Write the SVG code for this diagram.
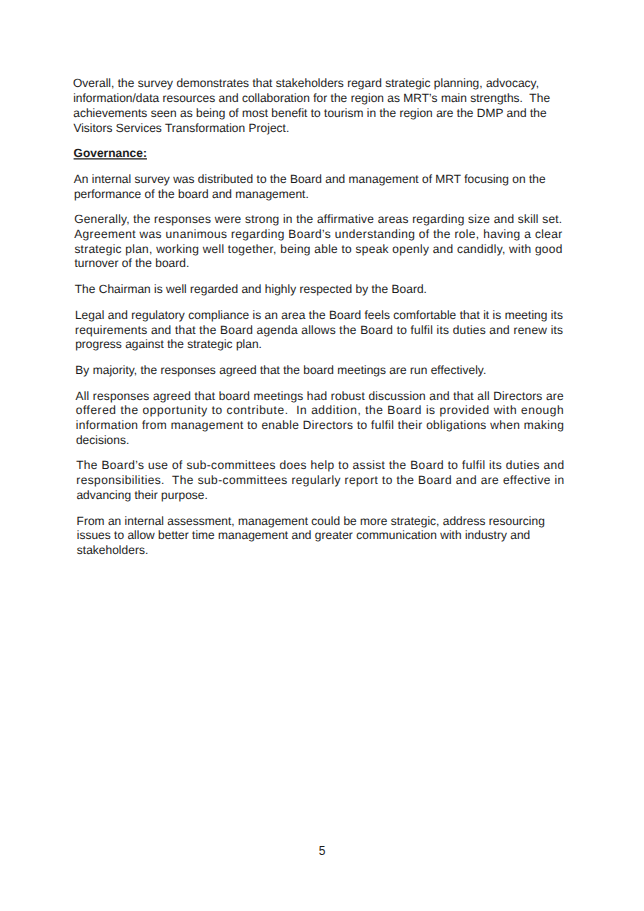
<svg xmlns="http://www.w3.org/2000/svg" width="644" height="911" viewBox="0 0 644 911">
<style>
text{font-family:"Liberation Sans",Arial,sans-serif;font-size:12px;fill:#1c1c1c;white-space:pre}
.h{font-weight:bold;text-decoration:underline}
</style>
<rect width="644" height="911" fill="#ffffff"/>
<g id="page" transform="translate(-0.697 0) skewX(0.47)">
<g id="p1">
<text x="73" y="87.5">Overall, the survey demonstrates that stakeholders regard strategic planning, advocacy,</text>
<text x="73" y="102.2">information/data resources and collaboration for the region as MRT’s main strengths.  The</text>
<text x="73" y="116.9">achievements seen as being of most benefit to tourism in the region are the DMP and the</text>
<text x="73" y="131.6">Visitors Services Transformation Project.</text>
</g>
<g id="heading">
<text class="h" x="73" y="157.3">Governance:</text>
</g>
<g id="p2">
<text x="73" y="183">An internal survey was distributed to the Board and management of MRT focusing on the</text>
<text x="73" y="197.7">performance of the board and management.</text>
</g>
<g id="p3">
<text x="73" y="223.4" textLength="488" lengthAdjust="spacing">Generally, the responses were strong in the affirmative areas regarding size and skill set.</text>
<text x="73" y="238.1" textLength="488" lengthAdjust="spacing">Agreement was unanimous regarding Board’s understanding of the role, having a clear</text>
<text x="73" y="252.8" textLength="488" lengthAdjust="spacing">strategic plan, working well together, being able to speak openly and candidly, with good</text>
<text x="73" y="267.5">turnover of the board.</text>
</g>
<g id="p4">
<text x="73" y="293.2">The Chairman is well regarded and highly respected by the Board.</text>
</g>
<g id="p5">
<text x="73" y="318.9" textLength="488" lengthAdjust="spacing">Legal and regulatory compliance is an area the Board feels comfortable that it is meeting its</text>
<text x="73" y="333.6" textLength="488" lengthAdjust="spacing">requirements and that the Board agenda allows the Board to fulfil its duties and renew its</text>
<text x="73" y="348.3">progress against the strategic plan.</text>
</g>
<g id="p6">
<text x="73" y="374">By majority, the responses agreed that the board meetings are run effectively.</text>
</g>
<g id="p7">
<text x="73" y="399.7" textLength="488" lengthAdjust="spacing">All responses agreed that board meetings had robust discussion and that all Directors are</text>
<text x="73" y="414.4" textLength="488" lengthAdjust="spacing">offered the opportunity to contribute.  In addition, the Board is provided with enough</text>
<text x="73" y="429.1" textLength="488" lengthAdjust="spacing">information from management to enable Directors to fulfil their obligations when making</text>
<text x="73" y="443.8">decisions.</text>
</g>
<g id="p8">
<text x="73" y="469.5" textLength="488" lengthAdjust="spacing">The Board’s use of sub-committees does help to assist the Board to fulfil its duties and</text>
<text x="73" y="484.2" textLength="488" lengthAdjust="spacing">responsibilities.  The sub-committees regularly report to the Board and are effective in</text>
<text x="73" y="498.9">advancing their purpose.</text>
</g>
<g id="p9">
<text x="73" y="524.6">From an internal assessment, management could be more strategic, address resourcing</text>
<text x="73" y="539.3">issues to allow better time management and greater communication with industry and</text>
<text x="73" y="554">stakeholders.</text>
</g>
</g>
<g id="footer">
<text x="322" y="854.5" text-anchor="middle" font-size="9.5">5</text>
</g>
</svg>
